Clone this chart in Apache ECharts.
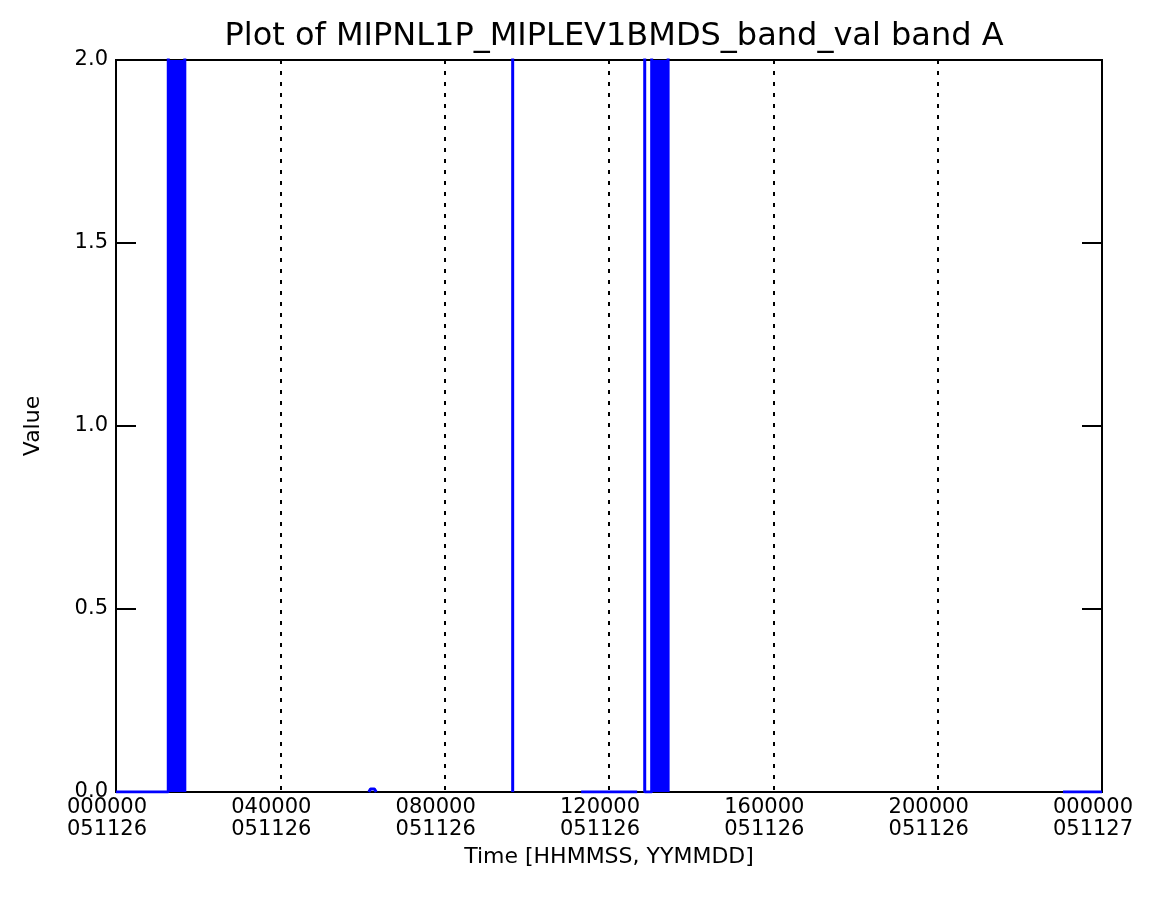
<!DOCTYPE html>
<html>
<head>
<meta charset="utf-8">
<script src="https://cdn.jsdelivr.net/npm/echarts@6/dist/echarts.min.js"></script>
<style>
  html, body { margin: 0; padding: 0; background: #fff; }
  #chart { width: 1160px; height: 907px; }
</style>
</head>
<body>
<div id="chart"></div>
<script>
// time in seconds of the day ('-' = gap in the record)
const traceTime = [0, 4580, 4580, 6030, 6030, 6030, 22150, 22300, 22650, 22800, 22800, 34760, 34760, 34760,
  40760, 45665, 45665, 46330, 46330, 46940, 46940, 48380, 48380, 48380, 82983, 86400];
const traceValue = [0, 0, 3, 3, 0, '-', 0, 0.008, 0.008, 0, '-', 0, 3, '-',
  0, 0, '-', 3, 0, 0, 3, 3, 0, '-', 0, 0];

// regions where the value flips so fast the trace is solid
const bandStart = [4580, 46940];
const bandEnd = [6030, 48380];

const xTicks = [0, 14400, 28800, 43200, 57600, 72000, 86400];
const xTickLabels = ["000000\n051126", "040000\n051126", "080000\n051126", "120000\n051126",
  "160000\n051126", "200000\n051126", "000000\n051127"];

const font = "DejaVu Sans";
const blue = "#0000ff";

const trace = traceTime.map((t, i) => [t, traceValue[i]]);

const bandSeries = bandStart.map((s, i) => ({
  type: "line",
  data: [[s, 0], [s, 3], [bandEnd[i], 3], [bandEnd[i], 0]],
  showSymbol: false,
  silent: true,
  lineStyle: { width: 0 },
  areaStyle: { color: blue, opacity: 1 },
  z: 3,
}));

const chart = echarts.init(document.getElementById("chart"));
chart.setOption({
  animation: false,
  title: {
    text: "Plot of MIPNL1P_MIPLEV1BMDS_band_val band A",
    left: 609,
    textAlign: "center",
    top: 16,
    textStyle: { fontFamily: font, fontSize: 32, fontWeight: "normal", color: "#000" },
  },
  grid: {
    left: 116,
    right: 58,
    top: 60,
    bottom: 115,
    show: true,
    borderColor: "#000",
    borderWidth: 2,
  },
  xAxis: {
    type: "value",
    min: 0,
    max: 86400,
    interval: 14400,
    name: "Time [HHMMSS, YYMMDD]",
    nameLocation: "middle",
    nameGap: 54,
    nameTextStyle: { fontFamily: font, fontSize: 22, color: "#000" },
    axisLine: { lineStyle: { color: "#000", width: 2 } },
    axisTick: { show: false },
    axisLabel: {
      fontFamily: font,
      fontSize: 21,
      color: "#000",
      lineHeight: 22,
      margin: 5,
      padding: [0, 18, 0, 0],
      formatter: (v) => xTickLabels[xTicks.indexOf(v)],
    },
    splitLine: {
      show: true,
      lineStyle: { color: "#000", width: 2, type: [4, 7] },
    },
  },
  yAxis: [
    {
      type: "value",
      min: 0,
      max: 2,
      interval: 0.5,
      name: "Value",
      nameLocation: "middle",
      nameGap: 72,
      nameTextStyle: { fontFamily: font, fontSize: 22, color: "#000" },
      axisLine: { show: true, lineStyle: { color: "#000", width: 2 } },
      axisTick: { show: true, inside: true, length: 20, lineStyle: { color: "#000", width: 2 } },
      axisLabel: {
        fontFamily: font,
        fontSize: 21,
        color: "#000",
        margin: 8,
        formatter: (v) => v.toFixed(1),
      },
      splitLine: { show: false },
    },
    {
      type: "value",
      position: "right",
      min: 0,
      max: 2,
      interval: 0.5,
      axisLine: { show: true, lineStyle: { color: "#000", width: 2 } },
      axisTick: { show: true, inside: true, length: 20, lineStyle: { color: "#000", width: 2 } },
      axisLabel: { show: false },
      splitLine: { show: false },
    },
  ],
  series: [
    {
      type: "line",
      data: trace,
      showSymbol: false,
      connectNulls: false,
      lineStyle: { color: blue, width: 3 },
      itemStyle: { color: blue },
      z: 4,
    },
    ...bandSeries,
  ],
});
</script>
</body>
</html>
